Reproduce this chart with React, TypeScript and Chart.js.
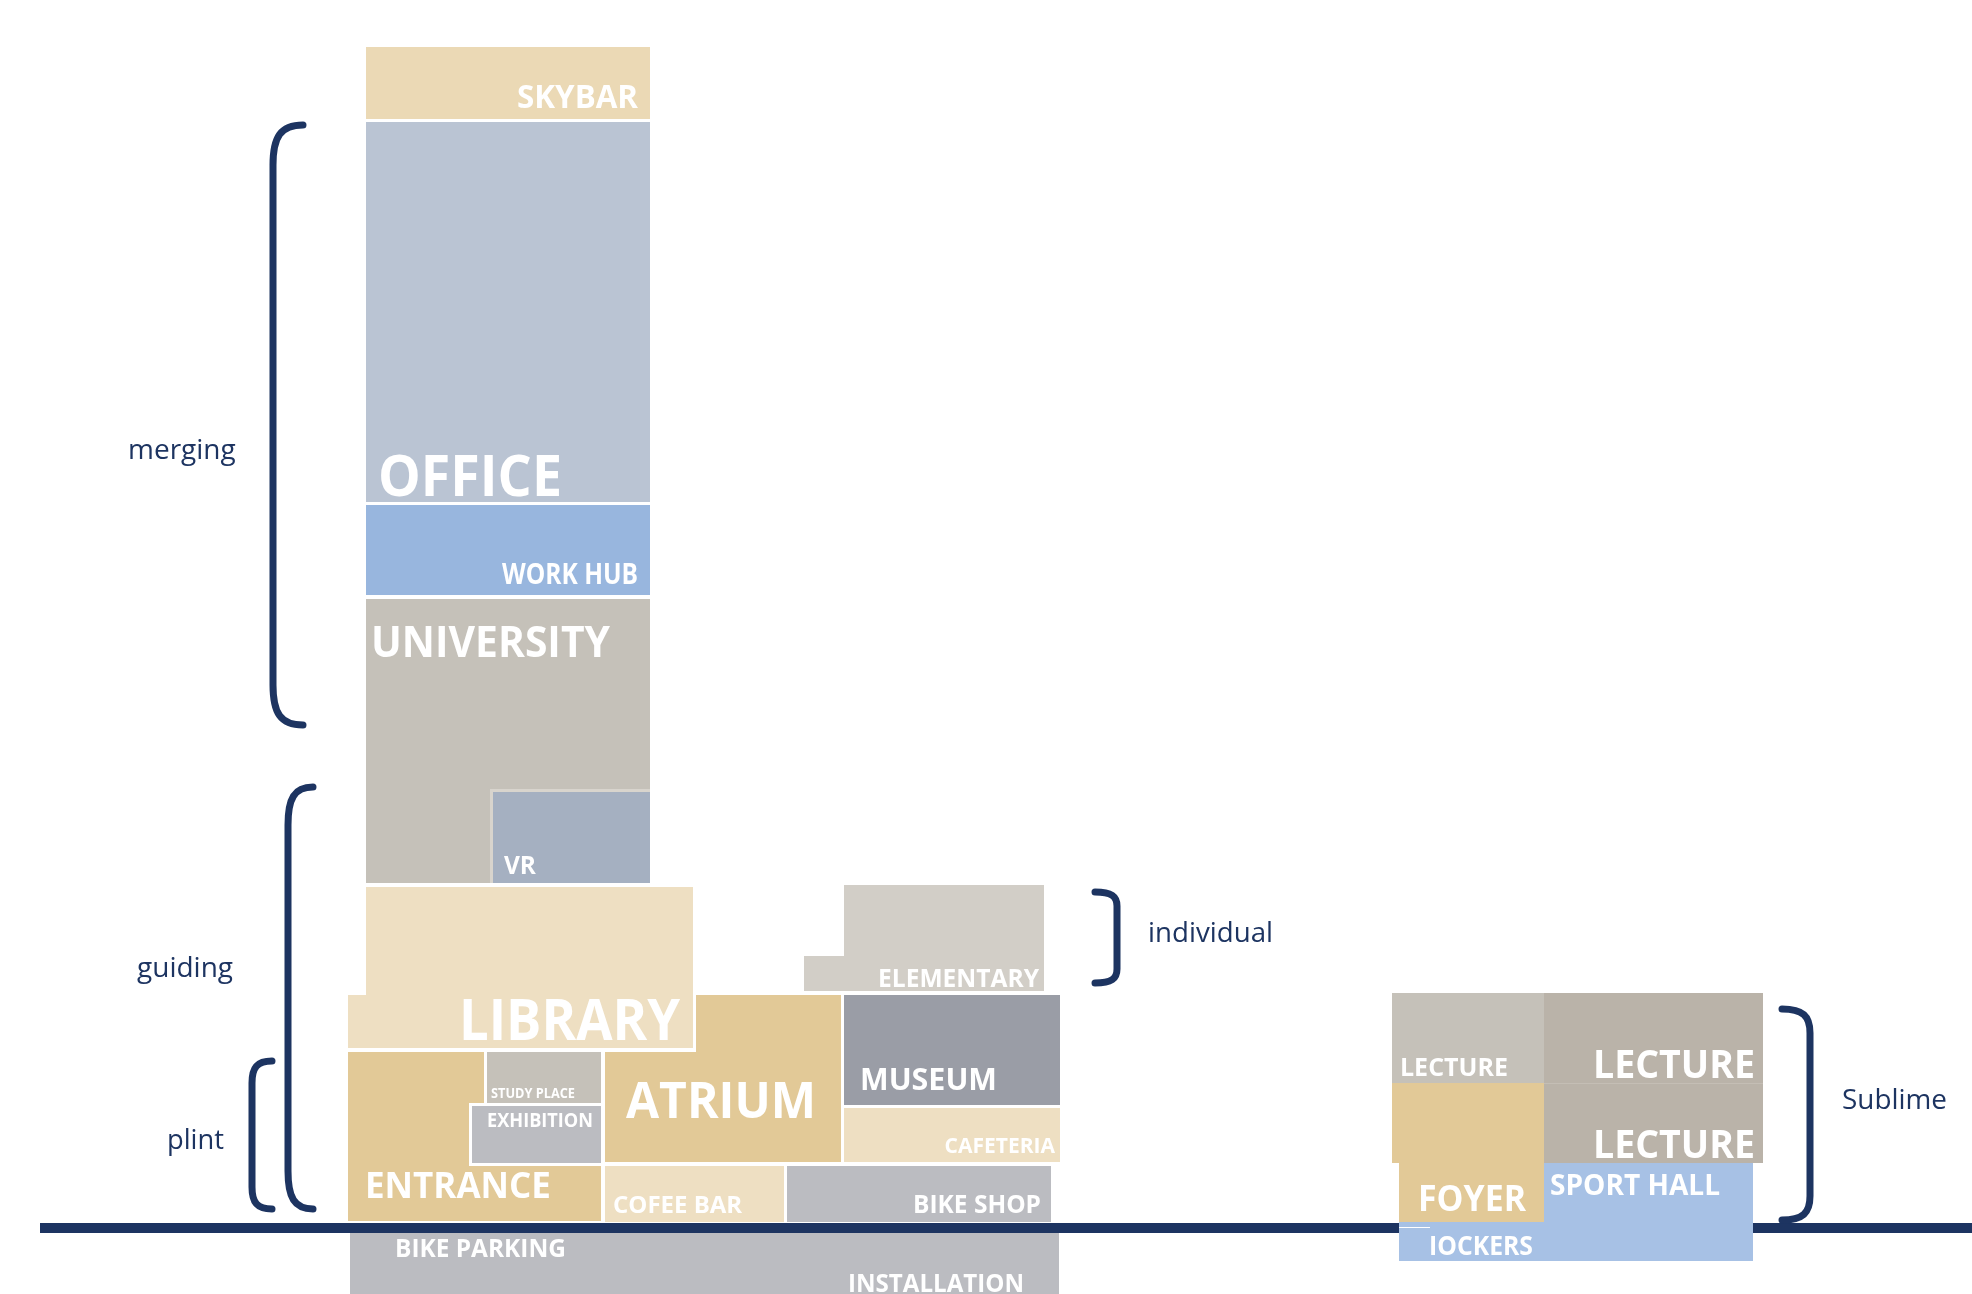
import React, { useEffect, useRef } from "react";
import { Chart, registerables } from "chart.js";

Chart.register(...registerables);

// ---------- DATA (x in metres along the site, y in metres above ground) ----------
const BLOCK_NAMES = [
  "SKYBAR", "OFFICE", "WORK HUB", "UNIVERSITY", "VR",
  "LIBRARY", "LIBRARY", "ELEMENTARY", "ELEMENTARY",
  "ATRIUM", "ATRIUM", "MUSEUM", "CAFETERIA",
  "ENTRANCE", "ENTRANCE", "STUDY PLACE", "EXHIBITION",
  "COFEE BAR", "BIKE SHOP", "BIKE PARKING",
  "LECTURE", "LECTURE", "LECTURE", "FOYER", "FOYER", "SPORT HALL", "LOCKERS",
];
const BLOCK_X0 = [36.6, 36.6, 36.6, 36.6, 49.3, 36.6, 34.8, 84.4, 80.4, 69.6, 60.5, 84.4, 84.4, 34.8, 34.8, 48.7, 47.2, 60.5, 78.7, 35.0, 139.2, 154.4, 154.4, 139.2, 139.9, 154.4, 139.9];
const BLOCK_X1 = [65.0, 65.0, 65.0, 65.0, 65.0, 69.3, 69.3, 104.4, 104.4, 84.1, 84.1, 106.0, 106.0, 48.4, 60.1, 60.1, 60.1, 78.4, 105.1, 105.9, 154.4, 176.3, 176.3, 154.4, 154.4, 175.3, 154.4];
const BLOCK_Y0 = [110.9, 72.6, 63.3, 34.5, 34.5, 18.0, 18.0, 23.7, 23.7, 6.6, 6.6, 12.3, 6.6, 0.7, 0.7, 12.5, 6.5, 0.6, 0.6, -8.0, 14.5, 14.5, 6.5, 6.5, 0.6, -3.3, -3.3];
const BLOCK_Y1 = [118.1, 110.6, 72.3, 62.9, 43.6, 34.1, 23.3, 34.3, 27.2, 23.3, 17.6, 23.3, 12.0, 17.6, 6.3, 17.6, 12.2, 6.2, 6.2, -0.5, 23.5, 23.5, 14.5, 14.5, 6.5, 6.5, 0.6];

const LABEL_TEXT = [
  "SKYBAR", "OFFICE", "WORK HUB", "UNIVERSITY", "VR", "LIBRARY", "ELEMENTARY",
  "MUSEUM", "ATRIUM", "CAFETERIA", "BIKE SHOP", "COFEE BAR", "ENTRANCE",
  "STUDY PLACE", "EXHIBITION", "BIKE PARKING", "INSTALLATION",
  "LECTURE", "LECTURE", "LECTURE", "FOYER", "SPORT HALL", "IOCKERS",
];

const GROUND_LEVEL = 0;
const GROUND_FROM = 4.0;
const GROUND_TO = 197.2;

const BRACKET_TEXT = ["merging", "guiding", "plint", "individual", "Sublime"];
const BRACKET_X = [27.3, 28.8, 25.2, 111.7, 181.0];
const BRACKET_TIP = [30.3, 31.3, 27.2, 109.5, 178.2];
const BRACKET_TOP = [110.3, 44.1, 16.7, 33.6, 21.9];
const BRACKET_BOTTOM = [50.3, 1.9, 1.9, 24.5, 0.8];

// ---------- LAYOUT / STYLE ----------
const BLOCK_COLORS = [
  "#EBD9B5", "#BAC4D3", "#98B6DE", "#C5C1B9", "#A5B0C1",
  "#EEDFC2", "#EEDFC2", "#D2CEC7", "#D2CEC7",
  "#E2C997", "#E2C997", "#9A9DA6", "#EEDFC2",
  "#E2C997", "#E2C997", "#C5C1B9", "#BBBCC1",
  "#EEDFC2", "#BBBCC1", "#BBBCC1",
  "#C5C1B9", "#BAB3A9", "#BAB3A9", "#E2C997", "#E2C997", "#A7C1E5", "#A7C1E5",
];
// underlay colour and its padding [left, top, right, bottom] in px
const BLOCK_UNDERLAY: (string | null)[] = [
  null, null, null, null, "#D8D4CD",
  null, null, null, null,
  null, null, null, null,
  null, null, null, "#FFFFFF",
  null, null, null,
  null, null, null, null, null, null, null,
];
const UNDERLAY_PAD: number[][] = BLOCK_NAMES.map((n) =>
  n === "VR" ? [3, 3, 0, 0] : [3, 3, 3, 3]
);

const LABEL_X = [63.8, 37.8, 63.8, 37.1, 50.4, 68.0, 103.9, 86.0, 62.6, 105.5, 104.1, 61.3, 36.5, 49.1, 48.7, 39.5, 84.8, 140.0, 175.5, 175.5, 141.8, 155.0, 142.9];
const LABEL_Y = [112.0, 73.2, 64.4, 57.1, 35.4, 18.8, 24.1, 13.8, 11.0, 7.5, 1.5, 1.5, 3.0, 13.0, 10.1, -2.9, -6.4, 15.2, 15.0, 7.0, 1.7, 3.3, -2.7];
const LABEL_ALIGN = ["right", "left", "right", "left", "left", "right", "right", "left", "left", "right", "right", "left", "left", "left", "left", "left", "left", "left", "right", "right", "left", "left", "left"];
const LABEL_SIZE = [33, 58, 28, 43, 25, 58, 25, 31, 51, 21, 25, 24, 35, 14, 19, 25, 25, 25, 40, 40, 36, 29, 27];
const LABEL_MAXW = [121, 184, 136, 239, 32, 221, 161, 137, 190, 117, 128, 135, 199, 84, 106, 171, 176, 108, 162, 162, 108, 170, 104];

const BRACKET_TEXT_X = [12.8, 13.7, 16.7, 114.8, 184.2];
const BRACKET_TEXT_Y = [76.9, 25.1, 7.9, 28.6, 11.9];
const BRACKET_TEXT_W = [108, 98, 57, 125, 105];
const BRACKET_CURVE = [40, 38, 22, 14, 24];

const NAVY = "#1D3461";

const drawPlugin = {
  id: "programBlocks",
  beforeDatasetsDraw(chart: any) {
    const ctx = chart.ctx as CanvasRenderingContext2D;
    const xs = chart.scales.x;
    const ys = chart.scales.y;
    const px = (v: number) => xs.getPixelForValue(v);
    const py = (v: number) => ys.getPixelForValue(v);

    ctx.save();
    ctx.fillStyle = "#FFFFFF";
    ctx.fillRect(0, 0, chart.width, chart.height);

    // ground line
    ctx.strokeStyle = NAVY;
    ctx.lineWidth = 10;
    ctx.beginPath();
    ctx.moveTo(px(GROUND_FROM), py(GROUND_LEVEL));
    ctx.lineTo(px(GROUND_TO), py(GROUND_LEVEL));
    ctx.stroke();

    // blocks
    for (let i = 0; i < BLOCK_NAMES.length; i++) {
      const x0 = px(BLOCK_X0[i]);
      const x1 = px(BLOCK_X1[i]);
      const yTop = py(BLOCK_Y1[i]);
      const yBot = py(BLOCK_Y0[i]);
      const under = BLOCK_UNDERLAY[i];
      if (under) {
        const p = UNDERLAY_PAD[i];
        ctx.fillStyle = under;
        ctx.fillRect(x0 - p[0], yTop - p[1], x1 - x0 + p[0] + p[2], yBot - yTop + p[1] + p[3]);
      }
      ctx.fillStyle = BLOCK_COLORS[i];
      ctx.fillRect(x0, yTop, x1 - x0, yBot - yTop);
    }

    // faint seam between the stacked lecture halls
    ctx.strokeStyle = "#C4BEB5";
    ctx.lineWidth = 1;
    ctx.beginPath();
    ctx.moveTo(px(154.4), py(14.5) + 0.5);
    ctx.lineTo(px(176.3), py(14.5) + 0.5);
    ctx.stroke();
    // small white tick in the lockers
    ctx.strokeStyle = "#FFFFFF";
    ctx.beginPath();
    ctx.moveTo(px(139.9), py(0.1) + 0.5);
    ctx.lineTo(px(143.0), py(0.1) + 0.5);
    ctx.stroke();

    // block labels
    ctx.fillStyle = "#FFFFFF";
    ctx.textBaseline = "alphabetic";
    for (let i = 0; i < LABEL_TEXT.length; i++) {
      ctx.font = `700 ${LABEL_SIZE[i]}px "Open Sans"`;
      ctx.textAlign = LABEL_ALIGN[i] as CanvasTextAlign;
      ctx.fillText(LABEL_TEXT[i], px(LABEL_X[i]), py(LABEL_Y[i]), LABEL_MAXW[i]);
    }

    // brackets
    ctx.strokeStyle = NAVY;
    ctx.lineWidth = 7;
    ctx.lineCap = "round";
    ctx.lineJoin = "round";
    for (let i = 0; i < BRACKET_TEXT.length; i++) {
      const xv = px(BRACKET_X[i]);
      const xt = px(BRACKET_TIP[i]);
      const yt = py(BRACKET_TOP[i]);
      const yb = py(BRACKET_BOTTOM[i]);
      const c = BRACKET_CURVE[i];
      ctx.beginPath();
      ctx.moveTo(xt, yt);
      ctx.bezierCurveTo(xv + (xt - xv) * 0.25, yt, xv, yt + c * 0.3, xv, yt + c);
      ctx.lineTo(xv, yb - c);
      ctx.bezierCurveTo(xv, yb - c * 0.3, xv + (xt - xv) * 0.25, yb, xt, yb);
      ctx.stroke();
    }

    // bracket captions
    ctx.fillStyle = NAVY;
    ctx.textAlign = "left";
    ctx.font = `400 28px "Open Sans"`;
    for (let i = 0; i < BRACKET_TEXT.length; i++) {
      ctx.fillText(BRACKET_TEXT[i], px(BRACKET_TEXT_X[i]), py(BRACKET_TEXT_Y[i]), BRACKET_TEXT_W[i]);
    }
    ctx.restore();
  },
};

export default function App() {
  const canvasRef = useRef<HTMLCanvasElement | null>(null);

  useEffect(() => {
    const canvas = canvasRef.current;
    if (!canvas) return;
    const chart = new Chart(canvas, {
      type: "scatter",
      data: {
        datasets: [
          {
            label: "program",
            data: BLOCK_NAMES.map((_, i) => ({
              x: (BLOCK_X0[i] + BLOCK_X1[i]) / 2,
              y: (BLOCK_Y0[i] + BLOCK_Y1[i]) / 2,
            })),
            pointRadius: 0,
            pointHoverRadius: 0,
          },
        ],
      },
      options: {
        animation: false,
        responsive: false,
        devicePixelRatio: 1,
        layout: { padding: 0 },
        events: [],
        plugins: {
          legend: { display: false },
          tooltip: { enabled: false },
          title: { display: false },
        },
        scales: {
          x: { type: "linear", min: 0, max: 197.2, display: false },
          y: { type: "linear", min: -6.6, max: 122.8, display: false },
        },
      },
      plugins: [drawPlugin],
    });
    return () => chart.destroy();
  }, []);

  return (
    <div style={{ position: "fixed", left: 0, top: 0, width: 1972, height: 1294, background: "#fff" }}>
      <canvas ref={canvasRef} width={1972} height={1294} style={{ display: "block" }} />
    </div>
  );
}
